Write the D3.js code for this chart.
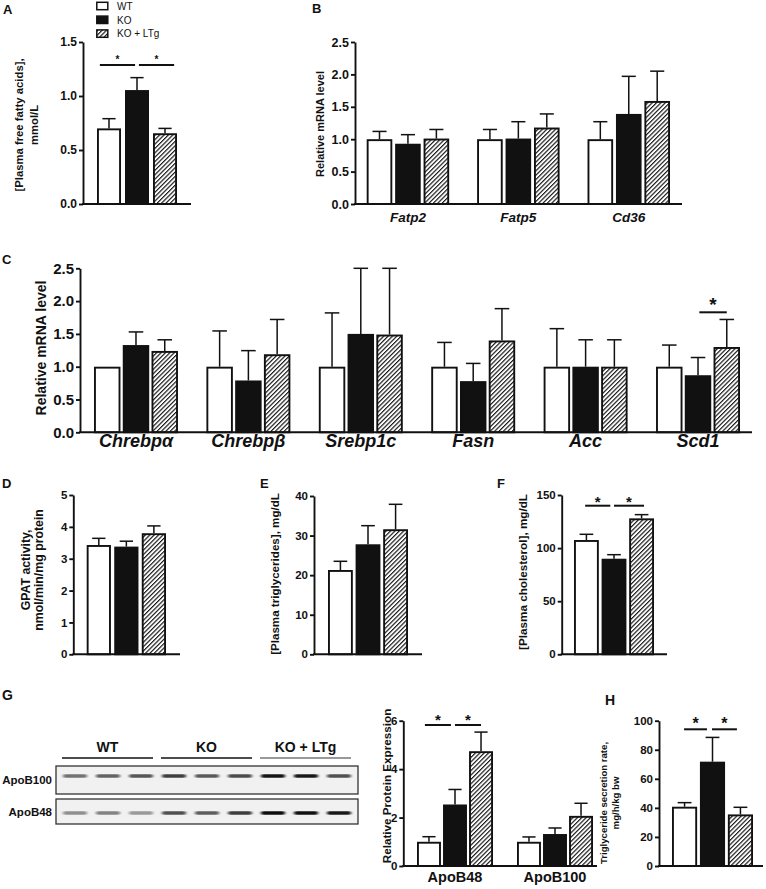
<!DOCTYPE html>
<html><head><meta charset="utf-8">
<script src="https://cdn.jsdelivr.net/npm/d3@7"></script>
<style>
html,body{margin:0;padding:0;background:#fff;}
svg{display:block;font-family:"Liberation Sans",Arial,Helvetica,sans-serif;}
</style></head><body>
<svg id="fig" width="766" height="889"></svg>
<script>
// ---------- DATA ----------
const groups = ["WT", "KO", "KO + LTg"];

// A: plasma free fatty acids (mmol/L)
const ffaMean = [0.70, 1.055, 0.655];
const ffaSem  = [0.09, 0.115, 0.045];
const ffaTicks = [0, 0.5, 1.0, 1.5];

// B: fatty acid transporters, relative mRNA
const bGenes = ["Fatp2", "Fatp5", "Cd36"];
const bWT = [1.00, 1.00, 1.00], bWTsem = [0.12, 0.15, 0.27];
const bKO = [0.93, 1.01, 1.39], bKOsem = [0.14, 0.26, 0.58];
const bLTg = [1.01, 1.18, 1.59], bLTgsem = [0.14, 0.21, 0.46];
const mrnaTicks = [0, 0.5, 1.0, 1.5, 2.0, 2.5];

// C: lipogenic genes, relative mRNA
const cGenes = ["Chrebp\u03b1", "Chrebp\u03b2", "Srebp1c", "Fasn", "Acc", "Scd1"];
const cWT = [1.00, 1.00, 1.00, 1.00, 1.00, 1.00], cWTsem = [0, 0.545, 0.82, 0.37, 0.58, 0.33];
const cKO = [1.33, 0.79, 1.50, 0.78, 1.00, 0.87], cKOsem = [0.20, 0.455, 1.00, 0.27, 0.41, 0.27];
const cLTg = [1.24, 1.19, 1.49, 1.40, 1.00, 1.30], cLTgsem = [0.17, 0.53, 1.01, 0.485, 0.41, 0.42];

// D: GPAT activity
const gpatMean = [3.43, 3.38, 3.80];
const gpatSem  = [0.21, 0.17, 0.23];
const gpatTicks = [0, 1, 2, 3, 4, 5];

// E: plasma triglycerides
const tgMean = [21.3, 27.8, 31.6];
const tgSem  = [2.2, 4.7, 6.3];
const tgTicks = [0, 10, 20, 30, 40];

// F: plasma cholesterol
const cholMean = [107.6, 90.0, 128.0];
const cholSem  = [5.4, 3.8, 3.5];
const cholTicks = [0, 50, 100, 150];

// G: blot + relative protein expression
const proteins = ["ApoB48", "ApoB100"];
const gWT = [1.00, 1.00], gWTsem = [0.21, 0.20];
const gKO = [2.54, 1.32], gKOsem = [0.62, 0.25];
const gLTg = [4.74, 2.07], gLTgsem = [0.79, 0.52];
const protTicks = [0, 2, 4, 6];
const blotLanes = [1, 2, 3, 4, 5, 6, 7, 8, 9];
const blotRows = ["ApoB100", "ApoB48"];
const apoB100Band = [0.55, 0.62, 0.68, 0.78, 0.66, 0.72, 0.97, 0.95, 0.70];
const apoB48Band  = [0.42, 0.48, 0.38, 0.70, 0.64, 0.78, 1.00, 0.98, 0.95];

// H: triglyceride secretion rate
const secMean = [40.8, 71.8, 35.5];
const secSem  = [2.8, 16.7, 4.9];
const secTicks = [0, 20, 40, 60, 80, 100];

// ---------- DRAWING ----------
const svg = d3.select("#fig");
const INK = "#111";
const defs = svg.append("defs");
defs.append("pattern").attr("id", "hatch").attr("patternUnits", "userSpaceOnUse")
  .attr("width", 3.1).attr("height", 3.1).attr("patternTransform", "rotate(45)")
  .call(p => {
    p.append("rect").attr("width", 3.1).attr("height", 3.1).attr("fill", "#fff");
    p.append("line").attr("x1", 0.6).attr("y1", 0).attr("x2", 0.6).attr("y2", 3.1)
      .attr("stroke", INK).attr("stroke-width", 1.15);
  });
defs.append("filter").attr("id", "blur").attr("x", "-30%").attr("y", "-100%").attr("width", "160%").attr("height", "300%")
  .append("feGaussianBlur").attr("stdDeviation", "1.4 0.7");

const fills = ["#fff", INK, "url(#hatch)"];

function panel(o) {
  const g = svg.append("g");
  const y = d3.scaleLinear().domain(o.domain).range([o.y0, o.y1]);
  const x0 = d3.scaleBand().domain(o.cats).range(o.xr).paddingInner(o.outerPad || 0).paddingOuter(0);
  const x1 = d3.scaleBand().domain(groups).range([0, x0.bandwidth()]).paddingInner(o.innerPad).paddingOuter(0);
  const bw = x1.bandwidth();
  const sw = o.sw || 1.9;
  o.cats.forEach((c, ci) => {
    groups.forEach((s, si) => {
      const v = o.means[si][ci], e = o.sems[si][ci];
      const bx = x0(c) + x1(s), cx = bx + bw / 2;
      if (e > 0) {
        const capW = bw * 0.55;
        g.append("line").attr("x1", cx).attr("x2", cx).attr("y1", y(v)).attr("y2", y(v + e))
          .attr("stroke", INK).attr("stroke-width", 1.5);
        g.append("line").attr("x1", cx - capW / 2).attr("x2", cx + capW / 2).attr("y1", y(v + e)).attr("y2", y(v + e))
          .attr("stroke", INK).attr("stroke-width", 1.5);
      }
      g.append("rect").attr("x", bx + sw / 2).attr("y", y(v) + sw / 2)
        .attr("width", bw - sw).attr("height", y(0) - y(v) - sw / 2)
        .attr("fill", fills[si]).attr("stroke", INK).attr("stroke-width", sw);
    });
  });
  // y axis
  const ax = g.append("g").attr("transform", `translate(${o.axisX},0)`)
    .call(d3.axisLeft(y).tickValues(o.ticks).tickFormat(o.fmt).tickSize(4).tickSizeOuter(0).tickPadding(2));
  ax.attr("font-family", null);
  ax.select(".domain").attr("stroke", INK).attr("stroke-width", 1.9);
  ax.selectAll(".tick line").attr("stroke", INK).attr("stroke-width", 1.9);
  ax.selectAll(".tick text").attr("fill", INK).attr("font-size", o.tfs).attr("font-weight", "bold");
  // baseline
  g.append("line").attr("x1", o.axisX - 0.95).attr("x2", o.axisEnd).attr("y1", o.y0).attr("y2", o.y0)
    .attr("stroke", INK).attr("stroke-width", 1.9);
  // category labels
  if (o.catLabel) {
    o.cats.forEach(c => {
      g.append("text").attr("x", x0(c) + x0.bandwidth() / 2).attr("y", o.catLabel.y)
        .attr("text-anchor", "middle").attr("font-size", o.catLabel.fs).attr("font-weight", "bold")
        .attr("font-style", o.catLabel.italic ? "italic" : "normal").attr("fill", INK).text(c);
    });
  }
  // y label
  const yl = g.append("text").attr("transform", `translate(${o.yl.x},${o.yl.cy}) rotate(-90)`)
    .attr("text-anchor", "middle").attr("font-size", o.yl.fs).attr("font-weight", "bold").attr("fill", INK);
  o.yl.lines.forEach((t, i) => {
    yl.append("tspan").attr("x", 0).attr("dy", i === 0 ? -(o.yl.lines.length - 1) * o.yl.lh : o.yl.lh).text(t);
  });
  // significance
  (o.sig || []).forEach(sg => {
    const cat = o.cats[sg.c || 0];
    const xa = x0(cat) + x1(groups[sg.a[0]]) + sg.a[1] * bw;
    const xb = x0(cat) + x1(groups[sg.b[0]]) + sg.b[1] * bw;
    g.append("line").attr("x1", xa).attr("x2", xb).attr("y1", sg.y).attr("y2", sg.y)
      .attr("stroke", INK).attr("stroke-width", 2);
    g.append("text").attr("x", (xa + xb) / 2).attr("y", sg.y + sg.sdy).attr("text-anchor", "middle")
      .attr("font-size", sg.fs).attr("font-weight", "bold").attr("fill", INK).text("*");
  });
  return g;
}

function letter(t, x, y, fs) {
  svg.append("text").attr("x", x).attr("y", y).attr("font-size", fs || 13).attr("font-weight", "bold")
    .attr("fill", INK).text(t);
}

const f1 = d3.format(".1f"), f0 = d3.format("d");

// A
panel({ domain: [0, 1.5], y0: 204, y1: 42, axisX: 83, axisEnd: 191, xr: [97, 177], cats: [""],
  innerPad: 0.143, means: [[ffaMean[0]], [ffaMean[1]], [ffaMean[2]]], sems: [[ffaSem[0]], [ffaSem[1]], [ffaSem[2]]],
  ticks: ffaTicks, fmt: f1, tfs: 12,
  yl: { x: 37.5, cy: 125, fs: 11.3, lh: 15, lines: ["[Plasma free fatty acids],", "mmol/L"] },
  sig: [{ a: [0, 0.12], b: [1, 0.42], y: 65, sdy: -2, fs: 10 }, { a: [1, 0.58], b: [2, 0.88], y: 65, sdy: -2, fs: 10 }] });
letter("A", 3, 14);
// legend
const leg = svg.append("g");
groups.forEach((s, i) => {
  leg.append("rect").attr("x", 96.8).attr("y", 2.3 + i * 13.8).attr("width", 11).attr("height", 7.4)
    .attr("fill", fills[i]).attr("stroke", INK).attr("stroke-width", 1.5);
  leg.append("text").attr("x", 117).attr("y", 9.8 + i * 13.8).attr("font-size", 10).attr("fill", INK).text(s);
});

// B
panel({ domain: [0, 2.5], y0: 204, y1: 42, axisX: 355, axisEnd: 682, xr: [366.7, 670], cats: bGenes,
  outerPad: 0.253, innerPad: 0.1, means: [bWT, bKO, bLTg], sems: [bWTsem, bKOsem, bLTgsem],
  ticks: mrnaTicks, fmt: f1, tfs: 12.5, catLabel: { y: 222, fs: 13.5, italic: true },
  yl: { x: 324, cy: 124, fs: 11, lh: 0, lines: ["Relative mRNA level"] } });
letter("B", 312, 13);

// C
panel({ domain: [0, 2.5], y0: 432.3, y1: 268.3, axisX: 80, axisEnd: 752, xr: [94, 740], cats: cGenes,
  outerPad: 0.253, innerPad: 0.08, means: [cWT, cKO, cLTg], sems: [cWTsem, cKOsem, cLTgsem],
  ticks: mrnaTicks, fmt: f1, tfs: 15, catLabel: { y: 447, fs: 18, italic: true },
  yl: { x: 46, cy: 348, fs: 14, lh: 0, lines: ["Relative mRNA level"] },
  sig: [{ c: 5, a: [1, 0.55], b: [2, 0.5], y: 312.3, sdy: -1, fs: 19 }] });
letter("C", 2, 264);

// D
panel({ domain: [0, 5], y0: 654.3, y1: 495, axisX: 73.3, axisEnd: 180, xr: [86.7, 166], cats: [""],
  innerPad: 0.12, means: [[gpatMean[0]], [gpatMean[1]], [gpatMean[2]]], sems: [[gpatSem[0]], [gpatSem[1]], [gpatSem[2]]],
  ticks: gpatTicks, fmt: f0, tfs: 11.5,
  yl: { x: 43, cy: 570, fs: 12.3, lh: 13, lines: ["GPAT activity,", "nmol/min/mg protein"] } });
letter("D", 2, 488);

// E
panel({ domain: [0, 40], y0: 654.3, y1: 496, axisX: 314, axisEnd: 422, xr: [328, 408], cats: [""],
  innerPad: 0.1, means: [[tgMean[0]], [tgMean[1]], [tgMean[2]]], sems: [[tgSem[0]], [tgSem[1]], [tgSem[2]]],
  ticks: tgTicks, fmt: f0, tfs: 11.5,
  yl: { x: 279, cy: 574, fs: 11.6, lh: 0, lines: ["[Plasma triglycerides], mg/dL"] } });
letter("E", 260, 488);

// F
panel({ domain: [0, 150], y0: 654.3, y1: 495, axisX: 561.7, axisEnd: 667, xr: [574, 654], cats: [""],
  innerPad: 0.1, means: [[cholMean[0]], [cholMean[1]], [cholMean[2]]], sems: [[cholSem[0]], [cholSem[1]], [cholSem[2]]],
  ticks: cholTicks, fmt: f0, tfs: 11.5,
  yl: { x: 527, cy: 572, fs: 11.7, lh: 0, lines: ["[Plasma cholesterol], mg/dL"] },
  sig: [{ a: [0, 0.45], b: [1, 0.35], y: 505.7, sdy: 1, fs: 15 }, { a: [1, 0.5], b: [2, 0.6], y: 505.7, sdy: 1, fs: 15 }] });
letter("F", 497, 488);

// G blot
letter("G", 2, 700, 14);
const lane = d3.scalePoint().domain(blotLanes).range([75, 339]);
const blot = svg.append("g");
const boxes = [{ y: 766, h: 28, band: apoB100Band, by: 776 }, { y: 799, h: 25, band: apoB48Band, by: 813 }];
boxes.forEach((b, r) => {
  blot.append("rect").attr("x", 56).attr("y", b.y).attr("width", 302).attr("height", b.h)
    .attr("fill", "#f1f1f1").attr("stroke", "#333").attr("stroke-width", 1.3);
  blot.append("text").attr("x", 52).attr("y", b.y + b.h / 2 + 4).attr("text-anchor", "end")
    .attr("font-size", 11.5).attr("font-weight", "bold").attr("fill", INK).text(blotRows[r]);
  blotLanes.forEach((l, i) => {
    blot.append("rect").attr("x", lane(l) - 12).attr("y", b.by - 1.8).attr("width", 24).attr("height", 3.6)
      .attr("rx", 1.8).attr("fill", "#111").attr("opacity", b.band[i]).attr("filter", "url(#blur)");
  });
});
groups.forEach((s, i) => {
  const xa = lane(blotLanes[i * 3]) - 13, xb = lane(blotLanes[i * 3 + 2]) + 12;
  blot.append("line").attr("x1", xa).attr("x2", xb).attr("y1", 758).attr("y2", 758)
    .attr("stroke", i === 2 ? "#777" : INK).attr("stroke-width", 1.6);
  blot.append("text").attr("x", (xa + xb) / 2).attr("y", 752).attr("text-anchor", "middle")
    .attr("font-size", 14).attr("font-weight", "bold").attr("fill", INK).text(s);
});

// G bars
panel({ domain: [0, 6], y0: 866, y1: 720.7, axisX: 403.3, axisEnd: 597, xr: [417, 593], cats: proteins,
  outerPad: 0.24, innerPad: 0.08, means: [gWT, gKO, gLTg], sems: [gWTsem, gKOsem, gLTgsem],
  ticks: protTicks, fmt: f0, tfs: 11.5, catLabel: { y: 882, fs: 14.5, italic: false },
  yl: { x: 391, cy: 786, fs: 11.7, lh: 0, lines: ["Relative Protein Expression"] },
  sig: [{ c: 0, a: [0, 0.33], b: [1, 0.33], y: 725, sdy: 0, fs: 15 }, { c: 0, a: [1, 0.5], b: [2, 0.5], y: 725, sdy: 0, fs: 15 }] });

// H
panel({ domain: [0, 100], y0: 866, y1: 720.7, axisX: 659, axisEnd: 763, xr: [672, 753], cats: [""],
  innerPad: 0.1, means: [[secMean[0]], [secMean[1]], [secMean[2]]], sems: [[secSem[0]], [secSem[1]], [secSem[2]]],
  ticks: secTicks, fmt: f0, tfs: 11.5,
  yl: { x: 619, cy: 803, fs: 9.6, lh: 12.5, lines: ["Triglyceride secretion rate,", "mg/h/kg bw"] },
  sig: [{ a: [0, 0.48], b: [1, 0.28], y: 729.3, sdy: 0, fs: 16 }, { a: [1, 0.48], b: [2, 0.36], y: 729.3, sdy: 0, fs: 16 }] });
letter("H", 605, 705, 14);
</script>
</body></html>
